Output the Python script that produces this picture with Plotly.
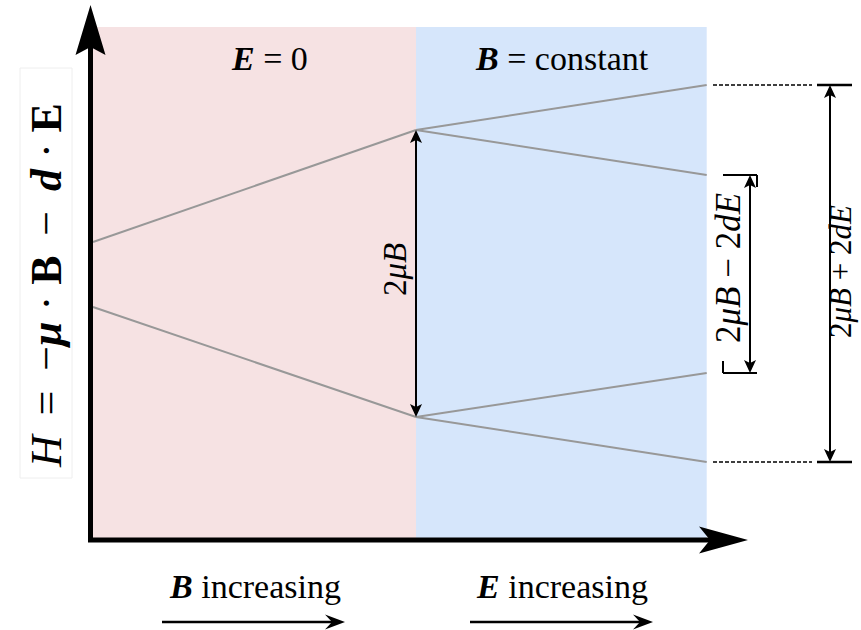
import plotly.graph_objects as go

# ---------------- data ----------------
field_B = [0.0, 1.0]          # stage 1: B increasing (E = 0)
field_E = [1.0, 1.9]          # stage 2: E increasing (B constant)
upper_B = [0.32, 1.44]
lower_B = [-0.33, -1.43]
upper_E_hi = [1.44, 1.89]
upper_E_lo = [1.44, 0.99]
lower_E_hi = [-1.43, -0.99]
lower_E_lo = [-1.43, -1.88]

GRAY = "rgb(152,152,152)"
PINK = "rgb(246,226,227)"
BLUE = "rgb(214,230,251)"
FONT = "Liberation Serif"

W, H = 861, 630
# pixel -> data helpers (for decoration placement only)
X0PX, XSCALE = 93.0, 323.0
Y0PX, YSCALE = 274.0, 100.0
def X(px):
    return (px - X0PX) / XSCALE
def Y(py):
    return (Y0PX - py) / YSCALE

fig = go.Figure()
for xs, ys in [(field_B, upper_B), (field_B, lower_B),
               (field_E, upper_E_hi), (field_E, upper_E_lo),
               (field_E, lower_E_hi), (field_E, lower_E_lo)]:
    fig.add_trace(go.Scatter(x=xs, y=ys, mode="lines",
                             line=dict(color=GRAY, width=2),
                             hoverinfo="skip", showlegend=False))

shapes = []
# stage backgrounds
shapes.append(dict(type="rect", xref="x", yref="y", x0=field_B[0], x1=field_B[1],
                   y0=Y(541), y1=Y(27), fillcolor=PINK, line=dict(width=0), layer="below"))
shapes.append(dict(type="rect", xref="x", yref="y", x0=field_E[0], x1=field_E[1],
                   y0=Y(541), y1=Y(27), fillcolor=BLUE, line=dict(width=0), layer="below"))

def head(xa, ya, direction, L, Wd, notch, color="black"):
    h = Wd / 2.0
    if direction == "right":
        pts = [(0, 0), (-L, h), (-notch, 0), (-L, -h)]
    elif direction == "up":
        pts = [(0, 0), (-h, -L), (0, -notch), (h, -L)]
    else:  # down
        pts = [(0, 0), (h, L), (0, notch), (-h, L)]
    path = "M " + " L ".join(f"{px:.2f},{py:.2f}" for px, py in pts) + " Z"
    return dict(type="path", xref="x", yref="y", xsizemode="pixel", ysizemode="pixel",
                xanchor=xa, yanchor=ya, path=path, fillcolor=color,
                line=dict(width=0), layer="above")

def seg(x0, y0, x1, y1, width=2, dash="solid", color="black"):
    return dict(type="line", xref="x", yref="y", x0=x0, y0=y0, x1=x1, y1=y1,
                line=dict(color=color, width=width, dash=dash), layer="above")

# main axes
shapes.append(dict(type="path", xref="x", yref="y",
                   path=f"M {X(90.5)},{Y(45)} L {X(90.5)},{Y(540)} L {X(712)},{Y(540)}",
                   fillcolor="rgba(0,0,0,0)", line=dict(color="black", width=5), layer="above"))
shapes.append(head(X(90.5), Y(5), "up", 50, 30, 42))
shapes.append(head(X(748), Y(540), "right", 49, 27, 38))

# helper for vertical double arrows
def dbl(x, ytop, ybot, width=2, L=13, Wd=12, notch=10):
    d = 5 / YSCALE
    return [seg(x, ytop - d, x, ybot + d, width=width),
            head(x, ytop, "up", L, Wd, notch),
            head(x, ybot, "down", L, Wd, notch)]

# 2 mu B arrow at the stage boundary
shapes += dbl(field_B[1], upper_B[-1], lower_B[-1])

# small (2muB - 2dE) arrow with ticks
xs_small = X(750)
shapes.append(seg(X(723), upper_E_lo[-1], X(757), upper_E_lo[-1], width=2))
shapes.append(seg(X(757), upper_E_lo[-1], X(757), upper_E_lo[-1] - 12 / YSCALE, width=2))
shapes.append(seg(X(723), lower_E_hi[-1], X(757), lower_E_hi[-1], width=2))
shapes.append(seg(X(723), lower_E_hi[-1], X(723), lower_E_hi[-1] + 12 / YSCALE, width=2))
shapes += dbl(xs_small, upper_E_lo[-1], lower_E_hi[-1])

# big (2muB + 2dE) arrow with dashed leaders and ticks
for lvl in (upper_E_hi[-1], lower_E_lo[-1]):
    shapes.append(seg(X(713), lvl, X(812), lvl, width=1.3, dash="4px,2px"))
    shapes.append(seg(X(817), lvl, X(852), lvl, width=2.5))
shapes += dbl(X(830), upper_E_hi[-1], lower_E_lo[-1])

# bottom "increasing" arrows
for xa, xb in [(X(162), X(345)), (X(470), X(653))]:
    shapes.append(seg(xa, Y(622), xb - 10 / XSCALE, Y(622), width=2.5))
    shapes.append(head(xb, Y(622), "right", 20, 15, 13))

annotations = []
def txt(x, y, text, size, angle=0):
    annotations.append(dict(x=x, y=y, xref="x", yref="y", text=text, showarrow=False,
                            textangle=angle, xanchor="center", yanchor="middle",
                            font=dict(family=FONT, size=size, color="black")))

# y-axis label box
shapes.append(dict(type="rect", xref="x", yref="y", x0=X(20), x1=X(72), y0=Y(478), y1=Y(68),
                   fillcolor="white", line=dict(color="rgb(238,238,238)", width=1), layer="above"))
TS = "&#8201;"
txt(X(46), Y(286),
    f"<i>H</i>{TS} = {TS}−<b><i>μ</i></b> · <b>B</b>{TS} − {TS}<b><i>d</i></b> · <b>E</b>", 44, -90)

txt(X(269), Y(58), "<b><i>E</i></b> = 0", 34)
txt(X(562), Y(58), "<b><i>B</i></b> = constant", 34)
txt(X(255), Y(586), "<b><i>B</i></b> increasing", 34)
txt(X(562), Y(586), "<b><i>E</i></b> increasing", 34)
txt(X(395), Y(270), "2<i>μB</i>", 33, -90)
txt(X(728), Y(268), "2<i>μB</i> − 2<i>dE</i>", 35, -90)
txt(X(840), Y(272), "2<i>μB</i> + 2<i>dE</i>", 31, -90)

fig.update_layout(
    width=W, height=H, autosize=False,
    margin=dict(l=0, r=0, t=0, b=0, pad=0),
    paper_bgcolor="white", plot_bgcolor="white",
    xaxis=dict(range=[X(0), X(W)], visible=False, fixedrange=True, domain=[0, 1]),
    yaxis=dict(range=[Y(H), Y(0)], visible=False, fixedrange=True, domain=[0, 1]),
    shapes=shapes, annotations=annotations, showlegend=False,
)

fig.write_html("out.html", config={"displayModeBar": False},
               post_script="document.body.style.margin='0';document.body.style.overflow='hidden';")
